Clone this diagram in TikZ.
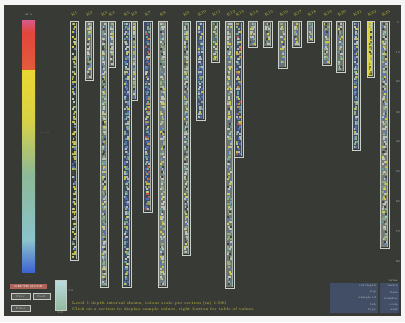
\documentclass[tikz,border=0pt]{standalone}
\usepackage{tikz}
\definecolor{bgd}{RGB}{56,58,54}
\definecolor{cW}{RGB}{196,204,196}
\definecolor{cG}{RGB}{150,180,125}
\definecolor{cY}{RGB}{215,210,70}
\definecolor{cB}{RGB}{85,115,190}
\definecolor{cT}{RGB}{105,165,165}
\definecolor{cR}{RGB}{200,85,70}
\definecolor{cO}{RGB}{215,150,65}
\definecolor{cMag}{RGB}{215,90,140}
\definecolor{cRed}{RGB}{225,70,60}
\definecolor{cYel}{RGB}{235,215,50}
\definecolor{cGrn}{RGB}{140,185,150}
\definecolor{cTeal}{RGB}{140,195,205}
\definecolor{cBlu}{RGB}{60,100,210}
\tikzstyle{str}=[draw=cW!90!white, line width=.7pt]
\tikzstyle{lab}=[text=cY!85!olive, font=\fontsize{3.8}{4}\selectfont, rotate=28, inner sep=0, anchor=south west]
\tikzstyle{tck}=[text=cW, font=\fontsize{3}{3.5}\selectfont, inner sep=0]
\tikzstyle{row}=[fill=cB!35!bgd]
\pgfmathdeclarerandomlist{gw}{{cW}{cW}{cW}{cG}{cG}{cY}{cT}{cB}{bgd}}
\pgfmathdeclarerandomlist{yl}{{cY}{cY}{cY}{cG}{cB}{cW}{bgd}{bgd}}
\pgfmathdeclarerandomlist{bl}{{cB}{cB}{cW}{cW}{cY}{cT}{cG}}
\pgfmathdeclarerandomlist{mx}{{cB}{cY}{cR}{cG}{cW}{cT}{cO}{cB}}
\pgfmathdeclarerandomlist{ye}{{bgd}{olive}{cY!60!black}{cG}{cY}}
% strip: x1, x2, bottom, speckles, base fill, label
\newcommand{\corestrip}[6]{%
  \draw[str] (#1,21) rectangle (#2,#3);
  \fill[#5] (#1+1.4,22.4) rectangle (#2-1.4,#3-1.4);
  \pgfmathtruncatemacro{\yc}{#3-4}
  \foreach \yy in {23,25.5,...,\yc}{%
    \foreach \k in {1,2}{%
      \pgfmathrandomitem{\cc}{#4}
      \pgfmathsetmacro{\xx}{#1+1.5+rnd*(#2-#1-5)}
      \fill[\cc, opacity=.85] (\xx,\yy) rectangle ++(2,2);
    }
  }
  \draw[cW!80!bgd, line width=.4pt] (#2-2.2,22.5) -- (#2-2.2,#3-1.5);
  \node[lab] (s#6) at ({(#1+#2)/2-2},17) {#6};
}

\begin{document}
\begin{tikzpicture}[x=1pt, y=-1pt]
  \pgfmathsetseed{7}
  \useasboundingbox (0,0) rectangle (405,322);
  \fill[white!92!gray] (0,0) rectangle (405,322);
  \fill[bgd] (4,5) rectangle (401,316);

  % colour scale
  \shade[top color=cMag, bottom color=cRed] (22,20) rectangle (35,32);
  \shade[top color=cRed, bottom color=cRed!85!cYel] (22,32) rectangle (35,70);
  \shade[top color=cYel, bottom color=cYel!80!cGrn] (22,70) rectangle (35,120);
  \shade[top color=cYel!80!cGrn, bottom color=cGrn] (22,120) rectangle (35,175);
  \shade[top color=cGrn, bottom color=cTeal] (22,175) rectangle (35,240);
  \shade[top color=cTeal, bottom color=cBlu] (22,240) rectangle (35,272);
  \node[tck] (scTop) at (28.5,14) {al a};
  \node[tck, anchor=west] (scMid) at (40,133) {-- ----};
  \node[tck, text=cR!80!white] (scLow) at (28,277) {-----};

  % strips
  \corestrip{70}{78}{260}{yl}{bgd}{K1}
  \corestrip{85}{93}{80}{gw}{cW!40!bgd}{K2}
  \corestrip{100}{108}{287}{gw}{cW!40!bgd}{K3}
  \corestrip{108}{115}{67}{gw}{cW!40!bgd}{K4}
  \corestrip{122}{131}{287}{bl}{cB!30!bgd}{K5}
  \corestrip{131}{137}{100}{gw}{cW!40!bgd}{K6}
  \corestrip{143}{152}{212}{mx}{cB!30!bgd}{K7}
  \corestrip{158}{167}{287}{gw}{cW!45!bgd}{K8}
  \corestrip{182}{190}{255}{gw}{cW!35!bgd}{K9}
  \corestrip{196}{205}{120}{bl}{cB!40!bgd}{K10}
  \corestrip{211}{219}{62}{gw}{cG!40!bgd}{K11}
  \corestrip{225}{234}{288}{gw}{cW!40!bgd}{K12}
  \corestrip{234}{243}{157}{mx}{cB!30!bgd}{K13}
  \corestrip{248}{257}{47}{gw}{cW!40!bgd}{K14}
  \corestrip{263}{272}{47}{gw}{cW!40!bgd}{K15}
  \corestrip{278}{287}{68}{gw}{cW!40!bgd}{K16}
  \corestrip{292}{301}{47}{gw}{cW!40!bgd}{K17}
  \corestrip{307}{314}{42}{gw}{cW!40!bgd}{K18}
  \corestrip{322}{331}{65}{gw}{cW!40!bgd}{K19}
  \corestrip{336}{345}{72}{gw}{cW!40!bgd}{K20}
  \corestrip{352}{360}{150}{bl}{cB!35!bgd}{K21}
  \corestrip{367}{374}{77}{ye}{cY}{K22}
  \corestrip{380}{389}{248}{gw}{cW!45!bgd}{K23}

  % depth ticks
  \foreach \yy/\dd [count=\i] in {23/0,53/10,82/20,113/30,142/40,172/50,202/60,232/70,262/80}
    \node[tck] (d\i) at (398,\yy) {\dd};

  % lower left controls
  \fill[cR!65!gray] (10,284) rectangle (47,289);
  \node[tck, text=white] (mode) at (28.5,286.5) {DEPTH MODE};
  \draw[cW, fill=gray!45!bgd] (11,293) rectangle (30,299) node[tck, midway] (bA) {Prev};
  \draw[cW, fill=gray!45!bgd] (33,293) rectangle (50,299) node[tck, midway] (bB) {Next};
  \draw[cW, fill=gray!45!bgd] (11,305) rectangle (30,311) node[tck, midway] (bC) {Print};
  \shade[top color=cTeal!60!white, bottom color=cG!60!cTeal] (55,280) rectangle (66,310);
  \draw[cW] (55,280) rectangle (66,310);
  \node[tck, anchor=west] (gl) at (68,291) {1.0};
  \node[tck] (gb) at (60.5,313) {0.0};

  % message lines
  \node[tck, anchor=west, text=cY!85!olive, font=\fontsize{4}{4.5}\selectfont] (m1) at (72,303)
    {Level 1 depth interval shown, colour scale per section (m) 1:500};
  \node[tck, anchor=west, text=cY!85!olive, font=\fontsize{4}{4.5}\selectfont] (m2) at (72,309.5)
    {Click on a section to display sample values, right button for table of values};

  % legend table
  \node[tck, anchor=east] (h0) at (398,280) {value};
  \foreach \yy/\aa/\bb [count=\i] in {286/ref depth/metre,292/top/base,298/sample id/number,304/lab/code,310/type/unit}{
    \fill[row] (330,\yy-2.6) rectangle (378,\yy+2.6);
    \fill[row] (380,\yy-2.6) rectangle (399,\yy+2.6);
    \node[tck, anchor=east] (ta\i) at (376,\yy) {\aa};
    \node[tck, anchor=east] (tb\i) at (398,\yy) {\bb};
  }
\end{tikzpicture}
\end{document}
